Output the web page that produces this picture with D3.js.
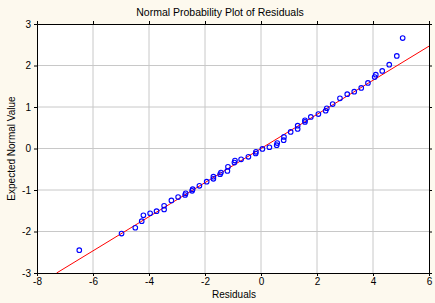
<!DOCTYPE html>
<html>
<head>
<meta charset="utf-8">
<script src="https://cdn.jsdelivr.net/npm/d3@7"></script>
<style>
  html, body { margin: 0; padding: 0; background: #fdf9ee; }
  svg { display: block; font-family: Arial, "Liberation Sans", sans-serif; }
</style>
</head>
<body>
<svg width="435" height="303"></svg>
<script>
// residuals and their expected normal values
const residuals = [-6.49, -4.98, -4.49, -4.26, -4.20, -3.96, -3.73, -3.46, -3.46, -3.20,
  -2.96, -2.71, -2.69, -2.46, -2.44, -2.20, -1.94, -1.70, -1.70, -1.46,
  -1.43, -1.20, -1.18, -0.95, -0.93, -0.71, -0.45, -0.19, -0.18, 0.05,
  0.30, 0.56, 0.58, 0.81, 0.82, 1.06, 1.31, 1.31, 1.57, 1.57,
  1.78, 2.05, 2.31, 2.35, 2.56, 2.82, 3.08, 3.33, 3.58, 3.82,
  4.06, 4.10, 4.33, 4.58, 4.85, 5.06];
const expected = [-2.45, -2.05, -1.91, -1.75, -1.61, -1.56, -1.51, -1.47, -1.38, -1.25,
  -1.17, -1.12, -1.08, -1.02, -0.98, -0.90, -0.80, -0.73, -0.68, -0.62,
  -0.58, -0.54, -0.44, -0.34, -0.29, -0.26, -0.20, -0.12, -0.08, -0.01,
  0.03, 0.08, 0.13, 0.20, 0.28, 0.40, 0.47, 0.55, 0.64, 0.68,
  0.76, 0.83, 0.91, 0.97, 1.07, 1.21, 1.31, 1.37, 1.46, 1.58,
  1.72, 1.78, 1.87, 2.02, 2.23, 2.66];
const xTicks = [-8, -6, -4, -2, 0, 2, 4, 6];
const yTicks = [-3, -2, -1, 0, 1, 2, 3];
// fitted line y = slope * x + intercept
const slope = 0.411;
const intercept = 0.0;

const margin = {left: 37, right: 6, top: 24, bottom: 30};
const width = 435, height = 303;

const svg = d3.select('svg');

const x = d3.scaleLinear().domain([-8, 6]).range([margin.left, width - margin.right]);
const y = d3.scaleLinear().domain([-3, 3]).range([height - margin.bottom, margin.top]);

const fmt = d => String(d);

// plot area
svg.append('rect')
  .attr('x', x(-8)).attr('y', y(3))
  .attr('width', x(6) - x(-8)).attr('height', y(-3) - y(3))
  .attr('fill', '#ffffff');

// grid
svg.append('g').selectAll('line').data(xTicks.slice(1, -1)).join('line')
  .attr('x1', d => x(d)).attr('x2', d => x(d))
  .attr('y1', y(3)).attr('y2', y(-3))
  .attr('stroke', '#c8c8c8').attr('stroke-width', 1);
svg.append('g').selectAll('line').data(yTicks.slice(1, -1)).join('line')
  .attr('x1', x(-8)).attr('x2', x(6))
  .attr('y1', d => y(d)).attr('y2', d => y(d))
  .attr('stroke', '#c8c8c8').attr('stroke-width', 1);

// axes
svg.append('g')
  .attr('transform', `translate(0,${y(-3)})`)
  .call(d3.axisBottom(x).tickValues(xTicks).tickSize(3).tickPadding(2).tickFormat(fmt));
svg.append('g')
  .attr('transform', `translate(${x(-8)},0)`)
  .call(d3.axisLeft(y).tickValues(yTicks).tickSize(3).tickPadding(3).tickFormat(fmt));
svg.append('g')
  .attr('transform', `translate(${x(6)},0)`)
  .call(d3.axisRight(y).tickValues(yTicks).tickSize(3).tickFormat(''));
svg.append('g')
  .attr('transform', `translate(0,${y(3)})`)
  .call(d3.axisTop(x).tickValues(xTicks).tickSize(3).tickFormat(''));

svg.selectAll('.domain').attr('stroke', '#000');
svg.selectAll('.tick line').attr('stroke', '#000');
svg.selectAll('.tick text').attr('font-size', 10).attr('fill', '#000')
  .attr('font-family', 'Arial, "Liberation Sans", sans-serif');

// clip for the fitted line
svg.append('clipPath').attr('id', 'clip')
  .append('rect')
  .attr('x', x(-8)).attr('y', y(3))
  .attr('width', x(6) - x(-8)).attr('height', y(-3) - y(3));

const lineX = [(-3 - intercept) / slope, 6];
svg.append('line')
  .attr('clip-path', 'url(#clip)')
  .attr('x1', x(lineX[0])).attr('y1', y(slope * lineX[0] + intercept))
  .attr('x2', x(lineX[1])).attr('y2', y(slope * lineX[1] + intercept))
  .attr('stroke', '#ff0000').attr('stroke-width', 1);

// points
svg.append('g').selectAll('circle').data(residuals).join('circle')
  .attr('cx', d => x(d))
  .attr('cy', (d, i) => y(expected[i]))
  .attr('r', 2.3)
  .attr('fill', 'none')
  .attr('stroke', '#0000ff')
  .attr('stroke-width', 1.1);

// titles
svg.append('text')
  .attr('x', 220).attr('y', 16)
  .attr('text-anchor', 'middle').attr('font-size', 10.5)
  .text('Normal Probability Plot of Residuals');
svg.append('text')
  .attr('x', 234).attr('y', 298)
  .attr('text-anchor', 'middle').attr('font-size', 10)
  .text('Residuals');
svg.append('text')
  .attr('transform', `translate(15,${(y(3) + y(-3)) / 2}) rotate(-90)`)
  .attr('text-anchor', 'middle').attr('font-size', 10)
  .text('Expected Normal Value');
</script>
</body>
</html>
